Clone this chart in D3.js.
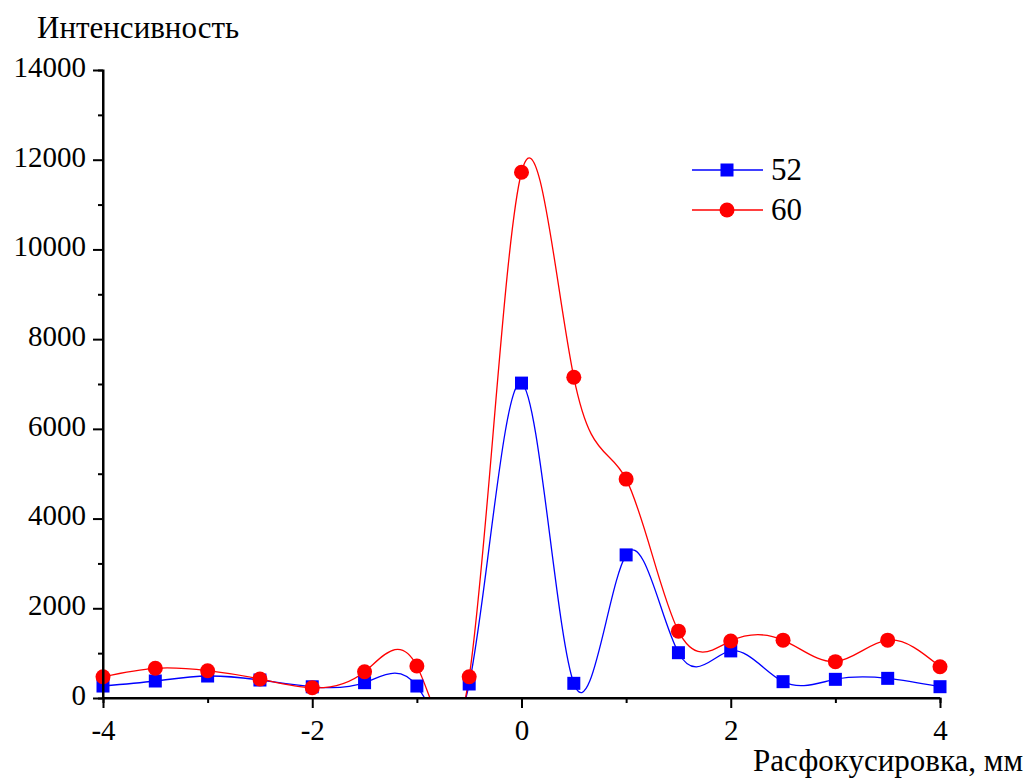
<!DOCTYPE html>
<html><head><meta charset="utf-8">
<script src="https://cdn.jsdelivr.net/npm/d3@7"></script>
<style>body{margin:0;background:#fff}svg{display:block}</style>
</head><body>
<script>
const xValues = [-4,-3.5,-3,-2.5,-2,-1.5,-1,-0.5,0,0.5,1,1.5,2,2.5,3,3.5,4];
const series52 = [267,379,490,401,250,341,267,312,7020,327,3190,1010,1050,364,416,438,252];
const series60 = [475,662,609,424,230,586,713,475,11720,7150,4880,1490,1270,1290,810,1290,698];
const seriesNames = ["52","60"];
const xTicks = [-4,-2,0,2,4];
const xMinorTicks = [-3,-1,1,3];
const yTicks = [0,2000,4000,6000,8000,10000,12000,14000];
const yMinorTicks = [1000,3000,5000,7000,9000,11000,13000];
const yLabel = "Интенсивность";
const xLabel = "Расфокусировка, мм";

const FONT = "'Liberation Serif', 'Times New Roman', serif";
const W=1029,H=778;
const svg=d3.select("body").append("svg").attr("width",W).attr("height",H);
const x=d3.scaleLinear().domain([-4,4]).range([103,940]);
const y=d3.scaleLinear().domain([0,14000]).range([698,70]);

svg.append("clipPath").attr("id","clip").append("rect")
  .attr("x",x(-4)).attr("y",y(14000)).attr("width",x(4)-x(-4)).attr("height",y(0)-y(14000));

const line=d3.line().x((d,i)=>x(xValues[i])).y(d=>y(d)).curve(d3.curveNatural);
const g=svg.append("g").attr("clip-path","url(#clip)");
g.append("path").attr("d",line(series52)).attr("fill","none").attr("stroke","#0000ff").attr("stroke-width",1.3);
g.append("path").attr("d",line(series60)).attr("fill","none").attr("stroke","#ff0000").attr("stroke-width",1.3);

const s=13;
svg.append("g").selectAll("rect").data(series52).join("rect")
  .attr("x",(d,i)=>x(xValues[i])-s/2).attr("y",d=>y(d)-s/2).attr("width",s).attr("height",s).attr("fill","#0000ff");
svg.append("g").selectAll("circle").data(series60).join("circle")
  .attr("cx",(d,i)=>x(xValues[i])).attr("cy",d=>y(d)).attr("r",7.5).attr("fill","#ff0000");

const yAxis=svg.append("g").attr("transform",`translate(${x(-4)},0)`)
  .call(d3.axisLeft(y).tickValues(yTicks).tickSize(10).tickPadding(7).tickFormat(d3.format("d")));
svg.append("g").attr("transform",`translate(${x(-4)},0)`)
  .call(d3.axisLeft(y).tickValues(yMinorTicks).tickSize(5).tickFormat(""));
const xAxis=svg.append("g").attr("transform",`translate(0,${y(0)})`)
  .call(d3.axisBottom(x).tickValues(xTicks).tickSize(10).tickPadding(11).tickFormat(d=>String(d)));
svg.append("g").attr("transform",`translate(0,${y(0)})`)
  .call(d3.axisBottom(x).tickValues(xMinorTicks).tickSize(5).tickFormat(""));
svg.selectAll(".domain").attr("stroke","#000").attr("stroke-width",2);
svg.selectAll(".tick line").attr("stroke","#000").attr("stroke-width",2);
yAxis.select(".domain").attr("d",`M0,${y(14000)}V${y(0)}`);
xAxis.select(".domain").attr("d",`M${x(-4)},0H${x(4)}`);
svg.selectAll(".tick text").attr("font-size",29).attr("fill","#000");
yAxis.selectAll(".tick text").attr("dy","0.22em");

svg.append("text").attr("x",37).attr("y",38).attr("font-size",31).text(yLabel);
svg.append("text").attr("x",1023).attr("y",771).attr("text-anchor","end").attr("font-size",31).text(xLabel);

const leg=[{c:"#0000ff",sq:true,yy:170,t:seriesNames[0]},{c:"#ff0000",sq:false,yy:210,t:seriesNames[1]}];
leg.forEach(l=>{
  svg.append("line").attr("x1",692).attr("x2",763).attr("y1",l.yy).attr("y2",l.yy).attr("stroke",l.c).attr("stroke-width",1.3);
  if(l.sq) svg.append("rect").attr("x",727-s/2).attr("y",l.yy-s/2).attr("width",s).attr("height",s).attr("fill",l.c);
  else svg.append("circle").attr("cx",727).attr("cy",l.yy).attr("r",7.5).attr("fill",l.c);
  svg.append("text").attr("x",771).attr("y",l.yy+10).attr("font-size",31).text(l.t);
});
svg.selectAll("g").attr("font-family",null);
svg.selectAll("text").attr("font-family",null).style("font-family",FONT);
</script>
</body></html>
